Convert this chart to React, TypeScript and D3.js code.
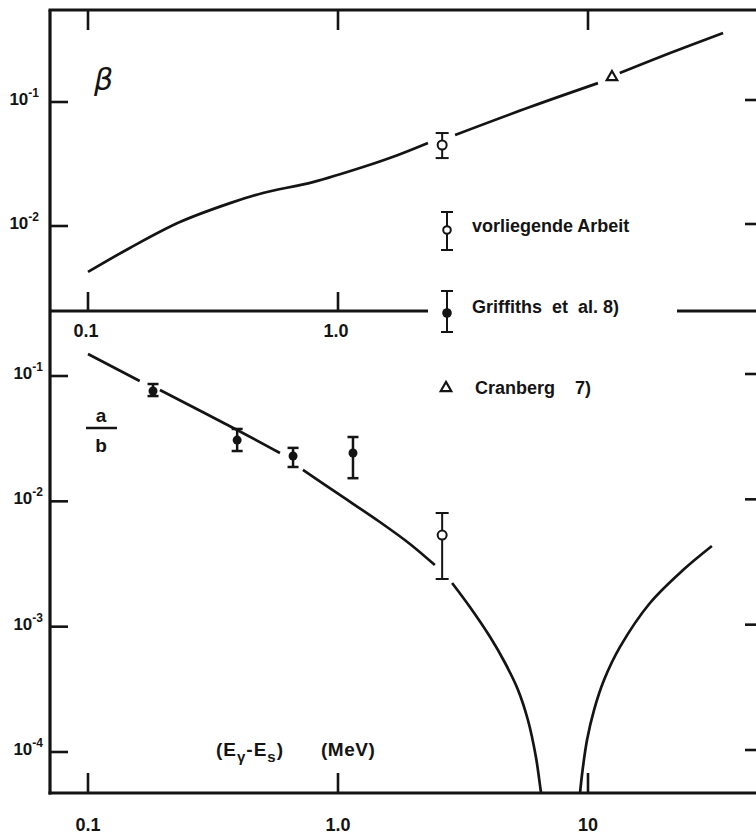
import React, { useEffect, useRef } from "react";
import * as d3 from "d3";

type Pt = [number, number] | null;

// energy axis (MeV), shared by both panels
const xTicks = [0.1, 1, 10];
const xTickLabels = ["0.1", "1.0", "10"];

const betaTicks = [1e-1, 1e-2];
const ratioTicks = [1e-1, 1e-2, 1e-3, 1e-4];

// theoretical curves, null = break in the drawn line (around a marker)
const betaCurve: Pt[] = [
  [0.1, 0.00426], [0.147, 0.00665], [0.233, 0.01076], [0.37, 0.0153], [0.501, 0.01845],
  [0.794, 0.0226], [1.259, 0.0299], [1.738, 0.0374], [2.29, 0.0467],
  null,
  [2.94, 0.0542], [5.86, 0.0911], [10.96, 0.142],
  null,
  [13.4, 0.171], [21.3, 0.248], [34.7, 0.36],
];

const ratioCurve: Pt[] = [
  [0.1, 0.15], [0.161, 0.0912],
  null,
  [0.194, 0.0773], [0.395, 0.0371], [0.586, 0.0243],
  null,
  [0.724, 0.0178], [1.0, 0.0115], [1.47, 0.00684], [1.94, 0.00457], [2.44, 0.0031],
  null,
  [2.86, 0.00223], [3.37, 0.001435], [4.06, 0.000826], [4.66, 0.000513], [5.25, 0.000313],
  [5.75, 0.00018], [6.19, 9.12e-5], [6.49, 4.71e-5], [6.61, 3.78e-5],
  null,
  [9.2, 3.78e-5], [9.46, 6.55e-5], [9.91, 1.247e-4], [10.57, 2.16e-4], [11.59, 3.75e-4],
  [13.43, 6.89e-4], [17.7, 1.545e-3], [24.0, 2.83e-3], [31.3, 4.4e-3],
];

// Griffiths et al. (a/b)
const griffithsE = [0.182, 0.395, 0.661, 1.148];
const griffithsRatio = [0.0759, 0.0308, 0.023, 0.0243];
const griffithsHi = [0.0863, 0.0378, 0.0267, 0.0326];
const griffithsLo = [0.0692, 0.0252, 0.0188, 0.0153];

// vorliegende Arbeit
const presentE = [2.61];
const presentBeta = [0.045];
const presentBetaHi = [0.0562];
const presentBetaLo = [0.0353];
const presentRatio = [0.00538];
const presentRatioHi = [0.00807];
const presentRatioLo = [0.0024];

// Cranberg
const cranbergE = [12.47];
const cranbergBeta = [0.159];

const legendLabels = ["vorliegende Arbeit", "Griffiths\u00a0 et\u00a0 al. 8)", "Cranberg\u00a0\u00a0\u00a0 7)"];

const W = 756;
const H = 834;
const font = "'Liberation Sans', Arial, sans-serif";
const ink = "#141414";

const App = () => {
  const ref = useRef<SVGSVGElement>(null);

  useEffect(() => {
    draw();
  }, []);

  const draw = () => {
    const svg = d3.select(ref.current);
    svg.selectAll("*").remove();

    const left = 50, right = 758, top = 10, mid = 311, bottom = 793;
    const gap = [428, 677]; // middle axis is broken by the legend

    const x = d3.scaleLog().domain([0.1, 10]).range([88, 588]);
    const yB = d3.scaleLog().domain([1e-2, 1e-1]).range([226, 102]);
    const yR = d3.scaleLog().domain([1e-4, 1e-1]).range([752, 376]);

    svg.append("rect").attr("width", W).attr("height", H).attr("fill", "white");

    const defs = svg.append("defs");
    defs.append("clipPath").attr("id", "clipTop").append("rect")
      .attr("x", left).attr("y", top).attr("width", right - left).attr("height", mid - top);
    defs.append("clipPath").attr("id", "clipBot").append("rect")
      .attr("x", left).attr("y", mid).attr("width", right - left).attr("height", bottom - mid);

    // frame
    const frame = svg.append("g").attr("stroke", ink).attr("stroke-width", 3.2);
    const seg = (g: any, x1: number, y1: number, x2: number, y2: number) =>
      g.append("line").attr("x1", x1).attr("y1", y1).attr("x2", x2).attr("y2", y2);
    seg(frame, left - 1.5, top, right, top);
    seg(frame, left, top, left, bottom + 1.5);
    seg(frame, left - 1.5, bottom, right, bottom);
    seg(frame, left, mid, gap[0], mid);
    seg(frame, gap[1], mid, right, mid);

    // x ticks
    const ticks = svg.append("g").attr("stroke", ink).attr("stroke-width", 2.6);
    xTicks.forEach((t) => {
      const px = x(t);
      seg(ticks, px, top, px, top + 20);
      if (px < gap[0] || px > gap[1]) seg(ticks, px, mid, px, mid - 19);
      seg(ticks, px, bottom, px, bottom - 20);
    });

    const xLab = svg.append("g").attr("font-family", font).attr("font-weight", "bold")
      .attr("font-size", 18).attr("fill", ink).attr("text-anchor", "middle");
    xTicks.forEach((t, i) => {
      const px = x(t);
      if (px < gap[0] || px > gap[1]) xLab.append("text").attr("x", px - 2).attr("y", mid + 26).text(xTickLabels[i]);
      xLab.append("text").attr("x", px).attr("y", bottom + 38).text(xTickLabels[i]);
    });

    // y ticks with 10^n labels
    const yAxis = (ticksArr: number[], y: any, labelEnd: number) => {
      ticksArr.forEach((t) => {
        const py = y(t);
        seg(ticks, left, py, left + 18, py);
        seg(ticks, right - 13, py - 2, right, py - 2);
        const txt = svg.append("text").attr("font-family", font).attr("font-size", 17)
          .attr("font-weight", "bold").attr("fill", ink).attr("text-anchor", "end")
          .attr("x", labelEnd).attr("y", py + 3);
        txt.append("tspan").text("10");
        txt.append("tspan").attr("dy", -8).attr("font-size", 12).text(String(Math.round(Math.log10(t))));
      });
    };
    yAxis(betaTicks, yB, 39);
    yAxis(ratioTicks, yR, 43);

    // curves
    const line = (y: any) =>
      d3.line<Pt>()
        .defined((d) => d !== null)
        .x((d) => x(d![0]))
        .y((d) => y(d![1]))
        .curve(d3.curveCatmullRom.alpha(0.5));

    svg.append("path").attr("clip-path", "url(#clipTop)").attr("d", line(yB)(betaCurve))
      .attr("fill", "none").attr("stroke", ink).attr("stroke-width", 2.7);
    svg.append("path").attr("clip-path", "url(#clipBot)").attr("d", line(yR)(ratioCurve))
      .attr("fill", "none").attr("stroke", ink).attr("stroke-width", 2.7);

    const errBar = (cx: number, y1: number, y2: number, w: number, cap: number) => {
      const g = svg.append("g").attr("stroke", ink).attr("stroke-width", w);
      seg(g, cx, y1, cx, y2);
      seg(g, cx - cap, y1, cx + cap, y1);
      seg(g, cx - cap, y2, cx + cap, y2);
    };
    const openDot = (cx: number, cy: number, r: number) =>
      svg.append("circle").attr("cx", cx).attr("cy", cy).attr("r", r)
        .attr("fill", "white").attr("stroke", ink).attr("stroke-width", 2);
    const fullDot = (cx: number, cy: number, r: number) =>
      svg.append("circle").attr("cx", cx).attr("cy", cy).attr("r", r).attr("fill", ink);
    const tri = (cx: number, cy: number) =>
      svg.append("path").attr("transform", `translate(${cx},${cy})`)
        .attr("d", d3.symbol(d3.symbolTriangle).size(48)())
        .attr("fill", "white").attr("stroke", ink).attr("stroke-width", 2.2);

    // data points
    griffithsE.forEach((e, i) => {
      errBar(x(e), yR(griffithsHi[i]), yR(griffithsLo[i]), 2.5, 5.5);
      fullDot(x(e), yR(griffithsRatio[i]), 4.5);
    });
    presentE.forEach((e, i) => {
      errBar(x(e), yB(presentBetaHi[i]), yB(presentBetaLo[i]), 2, 6.5);
      openDot(x(e), yB(presentBeta[i]), 4.5);
      errBar(x(e), yR(presentRatioHi[i]), yR(presentRatioLo[i]), 2, 6.5);
      openDot(x(e), yR(presentRatio[i]), 4.5);
    });
    cranbergE.forEach((e, i) => tri(x(e), yB(cranbergBeta[i])));

    // legend
    const lx = 447;
    errBar(lx, 212, 250, 2, 6);
    openDot(lx, 230, 3.8);
    errBar(lx, 291, 332, 2, 6);
    fullDot(lx, 313, 4.8);
    tri(lx - 1, 388);
    const leg = svg.append("g").attr("font-family", font).attr("font-weight", "bold")
      .attr("font-size", 18).attr("fill", ink);
    [[472, 232], [472, 313], [475, 394]].forEach(([tx, ty], i) =>
      leg.append("text").attr("x", tx).attr("y", ty).text(legendLabels[i]));

    // panel labels
    svg.append("text").attr("x", 94).attr("y", 90).attr("font-family", "'DejaVu Sans', sans-serif")
      .attr("font-style", "italic").attr("font-size", 30).attr("fill", ink).text("β");

    const frac = svg.append("g").attr("font-family", font).attr("font-weight", "bold")
      .attr("font-size", 19).attr("fill", ink).attr("text-anchor", "middle");
    frac.append("text").attr("x", 101).attr("y", 422).text("a");
    frac.append("text").attr("x", 101).attr("y", 452).text("b");
    svg.append("line").attr("x1", 86).attr("x2", 117).attr("y1", 428).attr("y2", 428)
      .attr("stroke", ink).attr("stroke-width", 2.5);

    // axis title
    const title = svg.append("text").attr("x", 216).attr("y", 756).attr("font-family", font)
      .attr("font-weight", "bold").attr("font-size", 19).attr("letter-spacing", 1).attr("fill", ink);
    title.append("tspan").text("(E");
    title.append("tspan").attr("dy", 6).attr("font-size", 15).text("γ");
    title.append("tspan").attr("dy", -6).text("-E");
    title.append("tspan").attr("dy", 6).attr("font-size", 15).text("s");
    title.append("tspan").attr("dy", -6).text(")");
    svg.append("text").attr("x", 321).attr("y", 756).attr("font-family", font)
      .attr("font-weight", "bold").attr("font-size", 19).attr("letter-spacing", 0.5).attr("fill", ink).text("(MeV)");
  };

  return (
    <svg ref={ref} width={W} height={H} style={{ position: "absolute", left: 0, top: 0 }}></svg>
  );
};

export default App;
